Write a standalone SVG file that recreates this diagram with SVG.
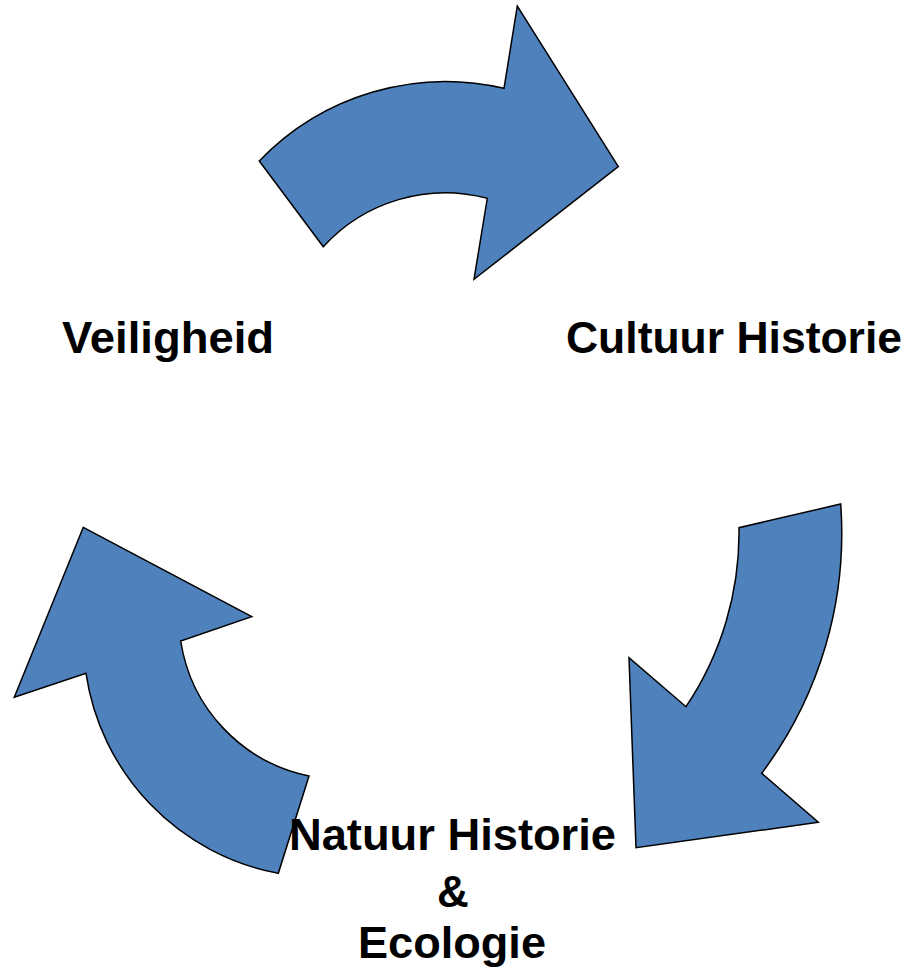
<svg xmlns="http://www.w3.org/2000/svg" width="918" height="974" viewBox="0 0 918 974">
  <style>
    .arrow { fill: #4F81BD; stroke: #000000; stroke-width: 1.5; stroke-linejoin: miter; }
    .label { font-family: "Liberation Sans", Arial, sans-serif; font-weight: bold; font-size: 44px; fill: #000000; }
  </style>
  <rect x="0" y="0" width="918" height="974" fill="#FFFFFF"/>
  <g id="connectors">
    <path id="arrow-top" class="arrow" d="M259.3,161 A258,258 0 0 1 504,88.3 L517.3,6 L618.3,166.7 L474,279.3 L487.3,198.3 A165,165 0 0 0 323.3,246.7 Z"/>
    <path id="arrow-right" class="arrow" d="M840.7,504 A400,400 0 0 1 761.7,773.3 L818.3,822.3 L636,847.7 L629,657.7 L686,706.7 A312,312 0 0 0 739,527.7 Z"/>
    <path id="arrow-left" class="arrow" d="M83.3,527.3 L251.7,616.7 L180.7,641 A163,163 0 0 0 309,776 L278.3,873.3 A239,239 0 0 1 86,673.3 L14.3,697.3 Z"/>
  </g>
  <g id="node-veiligheid">
    <text class="label" x="62" y="353" textLength="212" lengthAdjust="spacingAndGlyphs">Veiligheid</text>
  </g>
  <g id="node-cultuur-historie">
    <text class="label" x="566" y="353" textLength="336" lengthAdjust="spacingAndGlyphs">Cultuur Historie</text>
  </g>
  <g id="node-natuur-historie">
    <text class="label" x="289" y="850" textLength="327" lengthAdjust="spacingAndGlyphs">Natuur Historie</text>
    <text class="label" x="453" y="907" text-anchor="middle">&amp;</text>
    <text class="label" x="358" y="958" textLength="188" lengthAdjust="spacingAndGlyphs">Ecologie</text>
  </g>
</svg>
